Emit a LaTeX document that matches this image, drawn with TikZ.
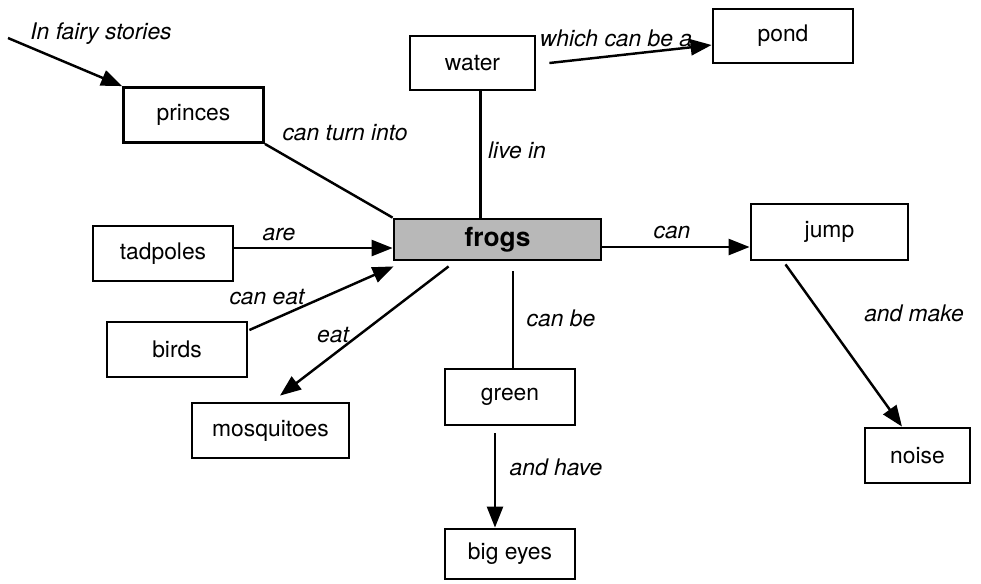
\documentclass[tikz,border=0pt]{standalone}
\usepackage{fontspec}
\setmainfont{TeX Gyre Heros}
\usetikzlibrary{arrows.meta, calc}

\begin{document}
\begin{tikzpicture}[x=0.02cm, y=-0.02cm,
        concept/.style={draw, line width=1.6pt, inner sep=0pt,
            minimum width=2.8cm, minimum height=1.1cm,
            font=\fontsize{13}{15}\selectfont},
        mainconcept/.style={concept, fill=black!28, minimum width=4.14cm,
            minimum height=0.82cm, font=\fontsize{15}{17}\selectfont\bfseries},
        lbl/.style={inner sep=0pt, font=\fontsize{13}{15}\selectfont\itshape},
        link/.style={line width=1.4pt},
        >={Triangle[length=4.2mm, width=3.2mm]}]
        \useasboundingbox (0,0) rectangle (981,583);

        % concepts
        \node[mainconcept] (frogs) at (497.5,239.5) {frogs};
        \node[concept] (princes) at (193.5,115) {princes};
        \node[concept, minimum width=2.5cm, minimum height=1.08cm] (water) at (472.5,63) {water};
        \node[concept, minimum height=1.08cm] (pond) at (783,36) {pond};
        \node[concept] (tadpoles) at (163,253.5) {tadpoles};
        \node[concept] (birds) at (177,349.5) {birds};
        \node[concept, minimum width=3.14cm] (mosquitoes) at (270.5,430.5) {mosquitoes};
        \node[concept, minimum width=2.6cm, minimum height=1.12cm] (green) at (510,397) {green};
        \node[concept, minimum width=2.6cm, minimum height=1cm] (bigeyes) at (510,554) {big eyes};
        \node[concept, minimum width=3.14cm, minimum height=1.12cm] (jump) at (829.5,232) {jump};
        \node[concept, minimum width=2.1cm] (noise) at (917.5,455.5) {noise};

        % links
        \coordinate (fairy) at (8,38);
        \draw[link, ->] (fairy) -- (princes.north west);
        \draw[link] (princes.south east) -- (frogs.north west);
        \draw[link] ($(water.south)+(8,0)$) coordinate (wf) -- (wf |- frogs.north);
        \draw[link, ->] ($(water.east)+(13,0)$) -- ($(pond.west)+(0,9)$);
        \draw[link, ->] ([yshift=0.11cm]tadpoles.east) -- ([yshift=0.11cm]tadpoles.east -| frogs.west);
        \draw[link, ->] ($(birds.east)+(1,-19.5)$) -- ($(frogs.south west)+(1,5)$);
        \draw[link, ->] ($(frogs.south west)+(56,5)$) -- ($(mosquitoes.north)+(9.5,-6)$);
        \draw[link] ($(frogs.south)+(15.5,10)$) coordinate (fg) -- (fg |- green.north);
        \draw[link, ->] ($(green.south)+(-15,7)$) coordinate (gb) -- (gb |- bigeyes.north);
        \draw[link, ->] ([yshift=-0.15cm]frogs.east) -- ([yshift=-0.15cm]frogs.east -| jump.west);
        \draw[link, ->] ($(jump.south)+(-44,3)$) -- ($(noise.north)+(-15.5,0)$);

        % link labels
        \node[lbl] (lfairy) at (101,34) {In fairy stories};
        \node[lbl] (lturn) at (345,133) {can turn into};
        \node[lbl] (llive) at (517,150) {live in};
        \node[lbl] (lwhich) at (616,38) {which can be a};
        \node[lbl] (lare) at (279,235) {are};
        \node[lbl] (lcaneat) at (267,297) {can eat};
        \node[lbl] (leat) at (333,335) {eat};
        \node[lbl] (lcanbe) at (561,318) {can be};
        \node[lbl] (lhave) at (556,467) {and have};
        \node[lbl] (lcan) at (672,233) {can};
        \node[lbl] (lmake) at (914,313) {and make};

    \end{tikzpicture}
\end{document}
